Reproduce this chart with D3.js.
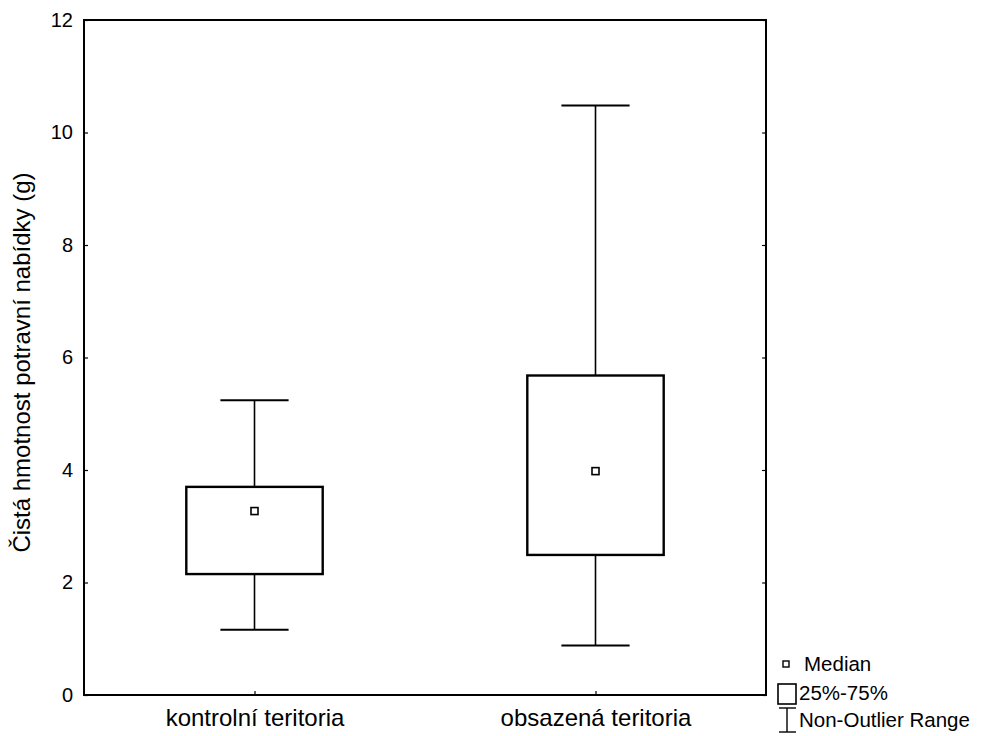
<!DOCTYPE html>
<html>
<head>
<meta charset="utf-8">
<script src="https://cdn.jsdelivr.net/npm/d3@7"></script>
<style>
  html, body { margin: 0; padding: 0; background: #fff; }
  svg { display: block; font-family: "Liberation Sans", Arial, sans-serif; }
</style>
</head>
<body>
<svg id="chart" width="983" height="736"></svg>
<script>
const categories = ["kontrolní teritoria", "obsazená teritoria"];
const whiskerLow  = [1.16, 0.88];
const q1          = [2.15, 2.49];
const medians     = [3.27, 3.98];
const q3          = [3.70, 5.68];
const whiskerHigh = [5.24, 10.48];
const yTicks = [0, 2, 4, 6, 8, 10, 12];
const yTitle = "Čistá hmotnost potravní nabídky (g)";
const legendLabels = ["Median", "25%-75%", "Non-Outlier Range"];

const svg = d3.select("#chart");
const W = 983, H = 736;
const margin = { left: 84, right: W - 766, top: 20, bottom: H - 695 };
const x0 = margin.left, x1 = W - margin.right, y0 = H - margin.bottom, y1 = margin.top;

const x = d3.scalePoint().domain(categories).range([x0, x1]).padding(0.5);
const y = d3.scaleLinear().domain([0, 12]).range([y0, y1]);
const step = x.step();

// Axes with inward ticks
const gL = svg.append("g").attr("transform", `translate(${x0},0)`)
  .call(d3.axisLeft(y).tickValues(yTicks).tickSizeInner(-4).tickSizeOuter(0).tickPadding(11));
const gR = svg.append("g").attr("transform", `translate(${x1},0)`)
  .call(d3.axisRight(y).tickValues(yTicks).tickSizeInner(-4).tickSizeOuter(0).tickFormat(""));
const gB = svg.append("g").attr("transform", `translate(0,${y0})`)
  .call(d3.axisBottom(x).tickSizeInner(-4).tickSizeOuter(0).tickPadding(14));
[gL, gR, gB].forEach(g => {
  g.select(".domain").remove();
  g.selectAll(".tick line").attr("stroke", "#000").attr("stroke-width", 1.2);
  g.selectAll(".tick text").attr("fill", "#000").attr("font-size", 20)
    .attr("font-family", "'Liberation Sans', Arial, sans-serif");
});
gB.selectAll(".tick text").attr("font-size", 24);

// Frame
svg.append("rect").attr("x", x0).attr("y", y1).attr("width", x1 - x0).attr("height", y0 - y1)
  .attr("fill", "none").attr("stroke", "#000").attr("stroke-width", 2);

// Y title
svg.append("text")
  .attr("transform", `translate(30,${(y0 + y1) / 2 + 5}) rotate(-90)`)
  .attr("text-anchor", "middle").attr("font-size", 24).attr("fill", "#000")
  .text(yTitle);

// Boxes
const data = categories.map((c, i) => ({ c, lo: whiskerLow[i], q1: q1[i], med: medians[i], q3: q3[i], hi: whiskerHigh[i] }));
const boxW = step * 0.4, capW = step * 0.2;
const g = svg.append("g");
data.forEach(d => {
  const cx = x(d.c);
  g.append("line").attr("x1", cx).attr("x2", cx).attr("y1", y(d.hi)).attr("y2", y(d.q3))
    .attr("stroke", "#000").attr("stroke-width", 1.6);
  g.append("line").attr("x1", cx).attr("x2", cx).attr("y1", y(d.q1)).attr("y2", y(d.lo))
    .attr("stroke", "#000").attr("stroke-width", 1.6);
  g.append("line").attr("x1", cx - capW / 2).attr("x2", cx + capW / 2).attr("y1", y(d.hi)).attr("y2", y(d.hi))
    .attr("stroke", "#000").attr("stroke-width", 1.8);
  g.append("line").attr("x1", cx - capW / 2).attr("x2", cx + capW / 2).attr("y1", y(d.lo)).attr("y2", y(d.lo))
    .attr("stroke", "#000").attr("stroke-width", 1.8);
  g.append("rect").attr("x", cx - boxW / 2).attr("y", y(d.q3)).attr("width", boxW).attr("height", y(d.q1) - y(d.q3))
    .attr("fill", "#fff").attr("stroke", "#000").attr("stroke-width", 2.4);
  g.append("rect").attr("x", cx - 3.5).attr("y", y(d.med) - 3.5).attr("width", 7).attr("height", 7)
    .attr("fill", "#fff").attr("stroke", "#000").attr("stroke-width", 1.6);
});

// Legend
const lg = svg.append("g");
lg.append("rect").attr("x", 783).attr("y", 661).attr("width", 6).attr("height", 6)
  .attr("fill", "#fff").attr("stroke", "#000").attr("stroke-width", 1.4);
lg.append("rect").attr("x", 778).attr("y", 684).attr("width", 18).attr("height", 20)
  .attr("fill", "#fff").attr("stroke", "#000").attr("stroke-width", 1.6);
lg.append("line").attr("x1", 787).attr("x2", 787).attr("y1", 708).attr("y2", 732).attr("stroke", "#000").attr("stroke-width", 1.4);
lg.append("line").attr("x1", 779).attr("x2", 796).attr("y1", 708).attr("y2", 708).attr("stroke", "#000").attr("stroke-width", 1.4);
lg.append("line").attr("x1", 779).attr("x2", 796).attr("y1", 732).attr("y2", 732).attr("stroke", "#000").attr("stroke-width", 1.4);
const lx = [804, 799, 799], ly = [671, 700, 727];
legendLabels.forEach((t, i) => {
  lg.append("text").attr("x", lx[i]).attr("y", ly[i]).attr("font-size", 20.5).attr("fill", "#000").text(t);
});
</script>
</body>
</html>
